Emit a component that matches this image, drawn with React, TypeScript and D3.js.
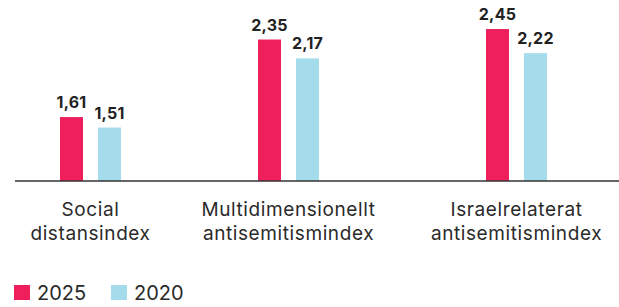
import React, { useEffect, useRef } from 'react';
import * as d3 from 'd3';

const categories = ['Social\ndistansindex', 'Multidimensionellt\nantisemitismindex', 'Israelrelaterat\nantisemitismindex'];
const years = ['2025', '2020'];
const values2025 = [1.61, 2.35, 2.45];
const values2020 = [1.51, 2.17, 2.22];
const colors = ['#ee1f5b', '#a5dcec'];

const width = 619;
const height = 307;
const baseY = 181;

const App = () => {
    const svgRef = useRef(null);

    useEffect(() => {
        const svg = d3.select(svgRef.current);
        svg.selectAll('*').remove();

        // group centres are not evenly spaced in the original
        const x = d3.scaleLinear().domain([0, 1, 2]).range([90.5, 288.5, 516.5]);
        const sub = d3.scaleBand().domain(years).range([-30.5, 30.5]).paddingInner(0.395).paddingOuter(0);
        const y = d3.scaleLinear().domain([1, 2.5]).range([baseY, baseY - 1.5 * 104.8]);

        const series = [values2025, values2020];
        const fmt = (v) => d3.format('.2f')(v).replace('.', ',');

        const g = svg.append('g');
        categories.forEach((c, i) => {
            years.forEach((yr, j) => {
                const v = series[j][i];
                const bx = x(i) + sub(yr);
                g.append('rect')
                    .attr('x', bx)
                    .attr('y', y(v))
                    .attr('width', sub.bandwidth())
                    .attr('height', baseY - y(v))
                    .attr('fill', colors[j]);
                g.append('text')
                    .attr('x', bx + sub.bandwidth() / 2)
                    .attr('y', y(v) - 9)
                    .attr('text-anchor', 'middle')
                    .attr('font-size', 16)
                    .attr('font-weight', 700)
                    .attr('letter-spacing', 0.2)
                    .attr('fill', '#222')
                    .text(fmt(v));
            });

            const t = g.append('text')
                .attr('x', x(i))
                .attr('y', 216)
                .attr('text-anchor', 'middle')
                .attr('font-size', 19)
                .attr('letter-spacing', 0.6)
                .attr('fill', '#2a2a2a');
            c.split('\n').forEach((line, k) => {
                t.append('tspan').attr('x', x(i)).attr('dy', k === 0 ? 0 : 24).text(line);
            });
        });

        svg.append('line')
            .attr('x1', 15).attr('x2', width)
            .attr('y1', baseY).attr('y2', baseY)
            .attr('stroke', '#333').attr('stroke-width', 1.5);

        // legend
        const legend = svg.append('g').attr('transform', 'translate(14,285)');
        years.forEach((yr, j) => {
            const lg = legend.append('g').attr('transform', `translate(${j * 97},0)`);
            lg.append('rect').attr('width', 16).attr('height', 15).attr('fill', colors[j]);
            lg.append('text')
                .attr('x', 23).attr('y', 14.5)
                .attr('font-size', 20)
                .attr('fill', '#2a2a2a')
                .text(yr);
        });
    }, []);

    return (
        <svg
            ref={svgRef}
            width={width}
            height={height}
            style={{ position: 'absolute', left: 0, top: 0, fontFamily: 'Inter, sans-serif' }}
        />
    );
};

export default App;
